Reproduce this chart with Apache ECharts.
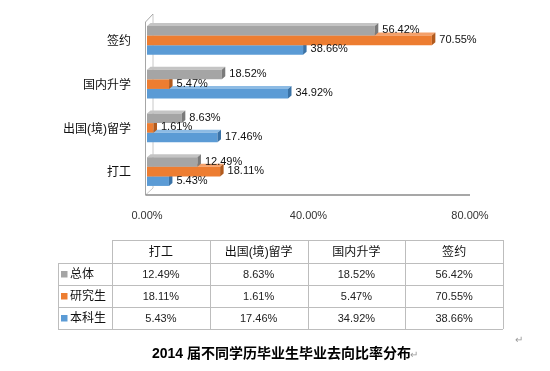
<!DOCTYPE html>
<html><head><meta charset="utf-8">
<script src="https://cdn.jsdelivr.net/npm/echarts@6/dist/echarts.min.js"></script>
<style>html,body{margin:0;padding:0;background:#fff}#c{width:550px;height:371px}</style>
</head><body><div id="c"></div>
<script>
// ---- data ----
const categories = ['打工', '出国(境)留学', '国内升学', '签约'];
const seriesNames = ['总体', '研究生', '本科生'];
const totalVals = [12.49, 8.63, 18.52, 56.42];
const gradVals = [18.11, 1.61, 5.47, 70.55];
const undergradVals = [5.43, 17.46, 34.92, 38.66];
const xTicks = [0, 40, 80];
const titleText = '2014 届不同学历毕业生毕业去向比率分布';

// ---- style ----
const FONT = '"Liberation Sans", "Noto Sans CJK SC", sans-serif';
const palette = [
  { front: '#a5a5a5', top: '#c4c4c4', side: '#7a7a7a' },
  { front: '#ed7d31', top: '#f4a06a', side: '#b25a1d' },
  { front: '#5b9bd5', top: '#8dbbe4', side: '#3a72a6' }
];
const W = 550, H = 371;
const gridTop = 20, gridBottom = 176, gridLeft = 147, gridRight = 80;
const fmt = v => v.toFixed(2) + '%';

const chart = echarts.init(document.getElementById('c'), null, { renderer: 'canvas' });

function makeRender(slot) {
  const col = palette[slot];
  return function (params, api) {
    const val = api.value(0), cat = api.value(1);
    const p0 = api.coord([0, cat]);
    const p1 = api.coord([val, cat]);
    const band = api.size([0, 1])[1];
    const barH = band * 0.218;
    const top = p0[1] - 1.5 * barH - 1.5 + slot * barH;
    const x0 = p0[0], x1 = p1[0];
    const dx = 3.5, dy = 3;
    const z = 3 - slot;
    return {
      type: 'group',
      children: [
        { type: 'polygon', z2: z, shape: { points: [[x0, top], [x0 + dx, top - dy], [x1 + dx, top - dy], [x1, top]] }, style: { fill: col.top } },
        { type: 'rect', z2: z, shape: { x: x0, y: top, width: x1 - x0, height: barH }, style: { fill: col.front } },
        { type: 'polygon', z2: z, shape: { points: [[x1, top], [x1 + dx, top - dy], [x1 + dx, top + barH - dy], [x1, top + barH]] }, style: { fill: col.side } },
        { type: 'text', z2: 20, style: { x: x1 + dx + 4, y: top + barH / 2 - 0.5, text: fmt(val), fill: '#111', font: '11px ' + FONT, verticalAlign: 'middle', align: 'left' } }
      ]
    };
  };
}

const seriesData = [totalVals, gradVals, undergradVals];
// draw bottom bar (本科生) first so upper bars overlap correctly
const series = [2, 1, 0].map(slot => ({
  type: 'custom',
  name: seriesNames[slot],
  renderItem: makeRender(slot),
  encode: { x: 0, y: 1 },
  clip: false,
  data: seriesData[slot].map((v, i) => [v, i])
}));

// ---- table ----
const tableLeft = 58, legendW = 54, colW = 97.75, headTop = 240, headH = 23, rowH = 22;
const lineColor = '#bdbdbd';
const tableEls = [];
const colX0 = tableLeft + legendW;
const colX1 = colX0 + colW * categories.length;
const tableBottom = headTop + headH + rowH * seriesNames.length;
function hline(x1, x2, y) { tableEls.push({ type: 'line', shape: { x1, y1: y, x2, y2: y }, style: { stroke: lineColor, lineWidth: 1 } }); }
function vline(x, y1, y2) { tableEls.push({ type: 'line', shape: { x1: x, y1, x2: x, y2 }, style: { stroke: lineColor, lineWidth: 1 } }); }
hline(colX0, colX1, headTop + 0.5);
for (let r = 0; r <= seriesNames.length; r++) hline(tableLeft, colX1, Math.round(headTop + headH + r * rowH) + 0.5);
vline(tableLeft + 0.5, headTop + headH, tableBottom);
for (let c = 0; c <= categories.length; c++) vline(Math.round(colX0 + c * colW) + 0.5, headTop, tableBottom);
categories.forEach((cat, c) => {
  tableEls.push({ type: 'text', style: { x: colX0 + (c + 0.5) * colW, y: headTop + headH / 2 + 1, text: cat, fill: '#111', font: '12px ' + FONT, align: 'center', verticalAlign: 'middle' } });
});
seriesNames.forEach((name, r) => {
  const yc = headTop + headH + (r + 0.5) * rowH + 0.5;
  tableEls.push({ type: 'rect', shape: { x: tableLeft + 3, y: yc - 3.5, width: 6.5, height: 6.5 }, style: { fill: palette[r].front } });
  tableEls.push({ type: 'text', style: { x: tableLeft + 12, y: yc, text: name, fill: '#111', font: '12px ' + FONT, align: 'left', verticalAlign: 'middle' } });
  seriesData[r].forEach((v, c) => {
    tableEls.push({ type: 'text', style: { x: colX0 + (c + 0.5) * colW, y: yc, text: fmt(v), fill: '#222', font: '11px ' + FONT, align: 'center', verticalAlign: 'middle' } });
  });
});

chart.setOption({
  animation: false,
  backgroundColor: '#fff',
  grid: { left: gridLeft, right: gridRight, top: gridTop, bottom: gridBottom, containLabel: false },
  xAxis: {
    type: 'value', min: xTicks[0], max: xTicks[xTicks.length - 1], interval: xTicks[1] - xTicks[0],
    axisLine: { show: false }, axisTick: { show: false }, splitLine: { show: false },
    axisLabel: { formatter: v => fmt(v), color: '#333', fontSize: 11, fontFamily: FONT, margin: 15 }
  },
  yAxis: {
    type: 'category', data: categories,
    axisLine: { show: false }, axisTick: { show: false }, splitLine: { show: false },
    axisLabel: { color: '#111', fontSize: 12, fontFamily: FONT, margin: 16 }
  },
  series: series,
  graphic: []
});

// ---- 3D wall/floor lines, derived from axis scale ----
const xz = chart.convertToPixel({ xAxisIndex: 0 }, xTicks[0]);
const xm = chart.convertToPixel({ xAxisIndex: 0 }, xTicks[xTicks.length - 1]);
const yb = H - gridBottom;
const wallColor = '#a6a6a6';
const wall = [
  { type: 'line', shape: { x1: xz - 1.5, y1: gridTop + 2, x2: xz - 1.5, y2: yb }, style: { stroke: wallColor, lineWidth: 1 } },
  { type: 'line', shape: { x1: xz + 6, y1: gridTop - 6, x2: xz + 6, y2: yb - 7 }, style: { stroke: '#c8c8c8', lineWidth: 1 } },
  { type: 'line', shape: { x1: xz - 1.5, y1: gridTop + 2, x2: xz + 6, y2: gridTop - 6 }, style: { stroke: wallColor, lineWidth: 1 } },
  { type: 'line', shape: { x1: xz - 1.5, y1: yb, x2: xz + 6, y2: yb - 7 }, style: { stroke: '#c8c8c8', lineWidth: 1 } },
  { type: 'line', shape: { x1: xz - 1.5, y1: yb, x2: xm, y2: yb }, style: { stroke: '#8a8a8a', lineWidth: 1.5 } }
];

const titleEls = [
  { type: 'text', style: { x: 152, y: 354, text: titleText, fill: '#000', font: 'bold 14px ' + FONT, verticalAlign: 'middle', align: 'left' } },
  { type: 'text', style: { x: 410, y: 355, text: '↵', fill: '#999', font: '10px ' + FONT, verticalAlign: 'middle' } },
  { type: 'text', style: { x: 515, y: 340, text: '↵', fill: '#999', font: '10px ' + FONT, verticalAlign: 'middle' } }
];

chart.setOption({ graphic: { elements: wall.concat(tableEls, titleEls) } });
</script>
</body></html>
